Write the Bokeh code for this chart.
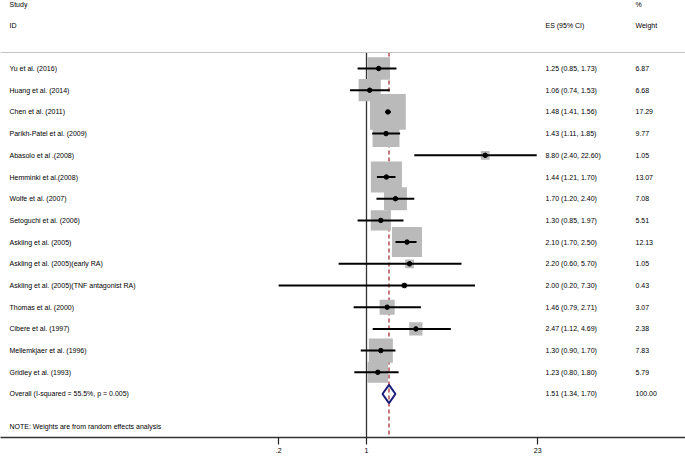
import numpy as np
from bokeh.plotting import figure
from bokeh.models import Range1d, Span, FixedTicker, ColumnDataSource
from bokeh.core.properties import value
from bokeh.embed import file_html
from bokeh.resources import INLINE

# ---------------- data ----------------
studies = [
    "Yu et al. (2016)",
    "Huang et al. (2014)",
    "Chen et al. (2011)",
    "Parikh-Patel et al. (2009)",
    "Abasolo et al .(2008)",
    "Hemminki et al.(2008)",
    "Wolfe et al. (2007)",
    "Setoguchi et al. (2006)",
    "Askling et al. (2005)",
    "Askling et al. (2005)(early RA)",
    "Askling et al. (2005)(TNF antagonist RA)",
    "Thomas et al. (2000)",
    "Cibere et al. (1997)",
    "Mellemkjaer et al. (1996)",
    "Gridley et al. (1993)",
]
es = [1.25, 1.06, 1.48, 1.43, 8.80, 1.44, 1.70, 1.30, 2.10, 2.20, 2.00, 1.46, 2.47, 1.30, 1.23]
ci_lo = [0.85, 0.74, 1.41, 1.11, 2.40, 1.21, 1.20, 0.85, 1.70, 0.60, 0.20, 0.79, 1.12, 0.90, 0.80]
ci_hi = [1.73, 1.53, 1.56, 1.85, 22.60, 1.70, 2.40, 1.97, 2.50, 5.70, 7.30, 2.71, 4.69, 1.70, 1.80]
weights = [6.87, 6.68, 17.29, 9.77, 1.05, 13.07, 7.08, 5.51, 12.13, 1.05, 0.43, 3.07, 2.38, 7.83, 5.79]

overall_label = "Overall  (I-squared = 55.5%, p = 0.005)"
overall_es = 1.51
overall_lo = 1.34
overall_hi = 1.70
overall_w = 100.00

note = "NOTE: Weights are from random effects analysis"
tick_values = [0.2, 1, 23]
tick_labels = [".2", "1", "23"]

# ---------------- layout helpers ----------------
W, H = 685, 456
PX_ONE = 366.0      # frame pixel of x = 1
PPD = 125.7         # pixels per decade


def px_to_x(px):
    return 10 ** ((px - PX_ONE) / PPD)


STUDY_X = px_to_x(9)
ES_X = px_to_x(545)
WT_X = px_to_x(635)
Y_TOP, Y_BOT = -2.134, 18.005
HEADER_LINE = 0.263
FONT = value("Liberation Sans")
FS = "7px"

n = len(studies)
rows = list(range(1, n + 1))
overall_row = n + 1

src = ColumnDataSource(dict(
    row=rows, es=es, lo=ci_lo, hi=ci_hi,
    box=[8.6 * np.sqrt(w) for w in weights],
))

p = figure(width=W, height=H, x_axis_type="log",
           x_range=Range1d(px_to_x(0), px_to_x(W)),
           y_range=Range1d(Y_BOT, Y_TOP),
           output_backend="svg", toolbar_location=None,
           min_border=0, min_border_left=0, min_border_right=0,
           min_border_top=0, min_border_bottom=19, y_axis_location=None)
p.outline_line_color = None
p.grid.visible = False
p.background_fill_color = "white"

ax = p.xaxis[0]
ax.ticker = FixedTicker(ticks=tick_values)
ax.major_label_overrides = dict(zip(tick_values, tick_labels))
ax.minor_tick_line_color = None
ax.major_tick_in = 0
ax.major_tick_out = 7
ax.major_tick_line_color = "#222222"
ax.major_tick_line_width = 1.2
ax.axis_line_color = "#333333"
ax.axis_line_width = 1.5
ax.major_label_text_font = "Liberation Sans"
ax.major_label_text_font_size = FS
ax.major_label_text_color = "black"
ax.major_label_standoff = 3

# header rule
p.add_layout(Span(location=HEADER_LINE, dimension="width",
                  line_color="#c4c4c4", line_width=1))

# reference lines
p.segment(x0=[overall_es], y0=[HEADER_LINE], x1=[overall_es], y1=[Y_BOT],
          line_color="#a01c22", line_width=1.2, line_dash="4 3")
p.segment(x0=[1], y0=[HEADER_LINE], x1=[1], y1=[Y_BOT],
          line_color="#333333", line_width=1.3)

# weight boxes
p.scatter(x="es", y="row", size="box", marker="square", source=src,
          fill_color="#bababa", line_color=None)
# CIs
p.segment(x0="lo", y0="row", x1="hi", y1="row", source=src,
          line_color="black", line_width=2)
p.scatter(x="es", y="row", size=4.5, source=src, color="black")

# overall diamond
DH = 0.42
p.patch(x=[overall_lo, overall_es, overall_hi, overall_es],
        y=[overall_row, overall_row - DH, overall_row, overall_row + DH],
        fill_color=None, line_color="#1a1f7a", line_width=2)

# texts
txt = dict(text_font=FONT, text_font_size=FS, text_baseline="middle",
           text_align="left", text_color="black")
es_txt = [f"{e:.2f} ({l:.2f}, {h:.2f})" for e, l, h in zip(es, ci_lo, ci_hi)]
w_txt = [f"{w:.2f}" for w in weights]
p.text(x=[STUDY_X] * n, y=rows, text=studies, **txt)
p.text(x=[ES_X] * n, y=rows, text=es_txt, **txt)
p.text(x=[WT_X] * n, y=rows, text=w_txt, **txt)

p.text(x=[STUDY_X, ES_X, WT_X], y=[overall_row] * 3,
       text=[overall_label, f"{overall_es:.2f} ({overall_lo:.2f}, {overall_hi:.2f})",
             f"{overall_w:.2f}"], **txt)

p.text(x=[STUDY_X, STUDY_X, ES_X, WT_X, WT_X], y=[-1.95, -0.98, -0.98, -1.95, -0.98],
       text=["Study", "ID", "ES (95% CI)", "%", "Weight"], **txt)
p.text(x=[STUDY_X], y=[17.5], text=[note], **txt)

open("out.html", "w").write(file_html(p, INLINE))
